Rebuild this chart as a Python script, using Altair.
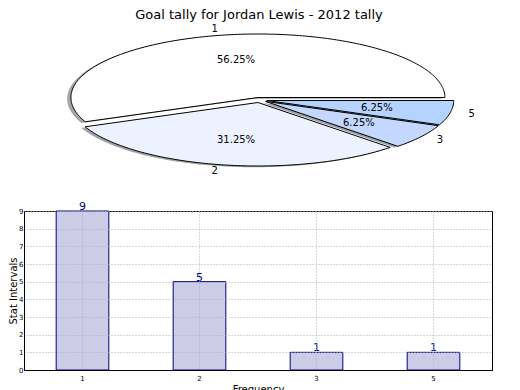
import math
import altair as alt
import pandas as pd

title_text = "Goal tally for Jordan Lewis - 2012 tally"
categories = ["1", "2", "3", "5"]
tally = [9, 5, 1, 1]
wedge_colors = ["#ffffff", "#ecf2ff", "#c4d8ff", "#b4d4ff"]
explode = [0.04, 0.04, 0.04, 0.04]
y_ticks = list(range(10))

FONT = "DejaVu Sans"

# ---- pie geometry (unit radius, matplotlib-style, CCW from +x) ----
total = sum(tally)
poly_rows, lab_rows, pct_rows = [], [], []
start = 0.0
for cat, v, col, e in zip(categories, tally, wedge_colors, explode):
    span = 360.0 * v / total
    a0, a1 = start, start + span
    mid = math.radians((a0 + a1) / 2)
    ox, oy = e * math.cos(mid), e * math.sin(mid)
    r, g, b = (int(col[i:i + 2], 16) for i in (1, 3, 5))
    shade = "#%02x%02x%02x" % (int(r * 0.3), int(g * 0.3), int(b * 0.3))
    pts = [(ox, oy)]
    n = max(4, int(span))
    for k in range(n + 1):
        th = math.radians(a0 + span * k / n)
        pts.append((ox + math.cos(th), oy + math.sin(th)))
    pts.append((ox, oy))
    for j, (x, y) in enumerate(pts):
        poly_rows.append(dict(wedge=cat, idx=j, x=x, y=y, sx=x - 0.02, sy=y - 0.02,
                              fill=col, shade=shade))
    lx, ly = ox + 1.1 * math.cos(mid), oy + 1.1 * math.sin(mid)
    lab_rows.append(dict(label=cat, x=lx, y=ly, side="left" if lx >= 0 else "right"))
    pct_rows.append(dict(label="%.2f%%" % (100.0 * v / total),
                         x=ox + 0.6 * math.cos(mid), y=oy + 0.6 * math.sin(mid)))
    start = a1

poly = pd.DataFrame(poly_rows)
labs = pd.DataFrame(lab_rows)
pcts = pd.DataFrame(pct_rows)

PW, PH = 468, 190
xs = alt.Scale(domain=[-1.2588, 1.2439], nice=False, zero=False)
ys = alt.Scale(domain=[-1.559, 1.433], nice=False, zero=False)

shadow = alt.Chart(poly).mark_line(stroke="transparent", strokeWidth=0, fillOpacity=0.5).encode(
    x=alt.X("sx:Q", scale=xs, axis=None),
    y=alt.Y("sy:Q", scale=ys, axis=None),
    detail="wedge:N",
    order="idx:Q",
    fill=alt.Fill("shade:N", scale=None),
)
wedges = alt.Chart(poly).mark_line(stroke="black", strokeWidth=1, fillOpacity=1).encode(
    x=alt.X("x:Q", scale=xs, axis=None),
    y=alt.Y("y:Q", scale=ys, axis=None),
    detail="wedge:N",
    order="idx:Q",
    fill=alt.Fill("fill:N", scale=None),
)
lab_left = alt.Chart(labs).transform_filter(alt.datum.side == "left").mark_text(
    align="left", baseline="middle", font=FONT, fontSize=10, color="black").encode(
    x=alt.X("x:Q", scale=xs, axis=None), y=alt.Y("y:Q", scale=ys, axis=None), text="label:N")
lab_right = alt.Chart(labs).transform_filter(alt.datum.side == "right").mark_text(
    align="right", baseline="middle", font=FONT, fontSize=10, color="black").encode(
    x=alt.X("x:Q", scale=xs, axis=None), y=alt.Y("y:Q", scale=ys, axis=None), text="label:N")
pct_text = alt.Chart(pcts).mark_text(
    align="center", baseline="middle", font=FONT, fontSize=10, color="black").encode(
    x=alt.X("x:Q", scale=xs, axis=None), y=alt.Y("y:Q", scale=ys, axis=None), text="label:N")
title_mark = alt.Chart(pd.DataFrame({"t": [title_text]})).mark_text(
    align="center", baseline="alphabetic", font=FONT, fontSize=13, color="black").encode(
    x=alt.value(235), y=alt.value(10), text="t:N")

pie = alt.layer(shadow, wedges, lab_left, lab_right, pct_text, title_mark).properties(
    width=PW, height=PH, view=alt.ViewConfig(stroke="transparent"))

# ---- bar chart ----
bars_df = pd.DataFrame({"Frequency": categories, "Stat Intervals": tally})
grid_style = dict(grid=True, gridDash=[1, 2], gridColor="#b0b0b0", gridWidth=1, zindex=1)
base = alt.Chart(bars_df).encode(
    x=alt.X("Frequency:N", sort=categories,
            scale=alt.Scale(paddingInner=0.55, paddingOuter=0.275),
            axis=alt.Axis(labelAngle=0, labelFontSize=7, labelPadding=4, labelFont=FONT,
                          labelColor="black", ticks=False, domainColor="black",
                          title="Frequency", titleFont=FONT, titleFontSize=10,
                          titleFontWeight="normal", titleColor="black", titlePadding=3,
                          **grid_style)),
    y=alt.Y("Stat Intervals:Q", scale=alt.Scale(domain=[0, 9], nice=False),
            axis=alt.Axis(values=y_ticks, labelFontSize=7, labelPadding=1, labelFont=FONT,
                          labelColor="black", ticks=False, domainColor="black",
                          title="Stat Intervals", titleFont=FONT, titleFontSize=10,
                          titleFontWeight="normal", titleColor="black", titlePadding=0,
                          **grid_style)),
)
bars = base.mark_bar(fill="#ccccE6", stroke="#000080", strokeWidth=1)
vals = base.mark_text(baseline="bottom", align="center", font=FONT, fontSize=11,
                      color="#000080", dy=1).encode(text="Stat Intervals:Q")
barchart = alt.layer(bars, vals).properties(
    width=468, height=159, view=alt.ViewConfig(stroke="black", strokeWidth=1))

chart = alt.vconcat(pie, barchart, spacing=12, bounds="flush").properties(
    padding=0, background="white")

chart.save("out.html", embed_options={"renderer": "svg", "actions": False})
